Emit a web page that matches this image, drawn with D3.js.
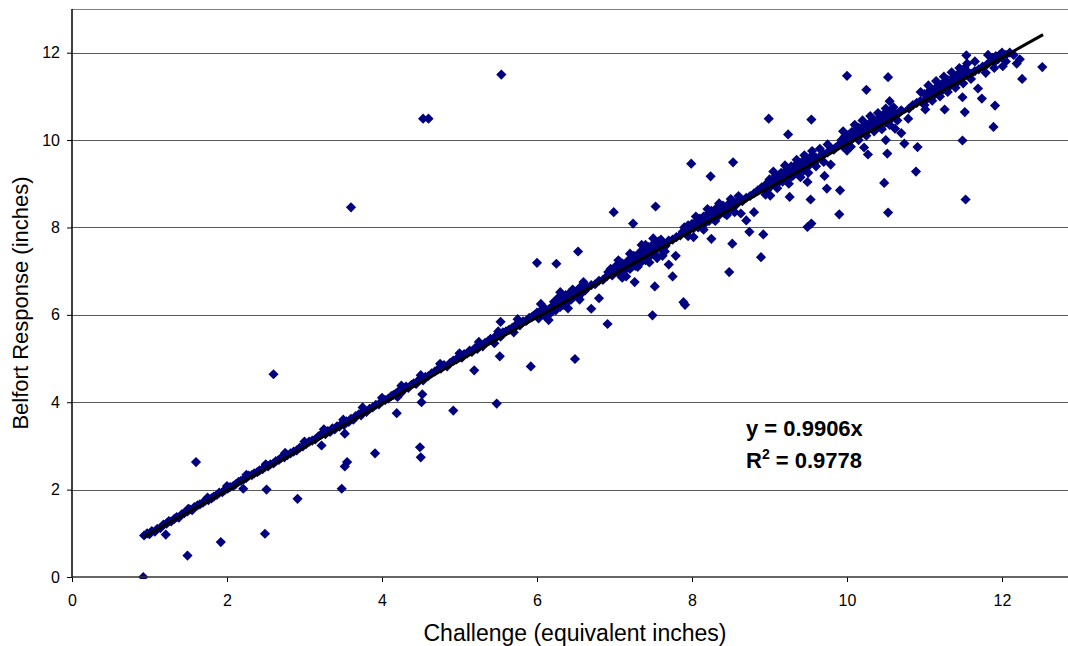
<!DOCTYPE html>
<html>
<head>
<meta charset="UTF-8">
<title>Belfort Response vs Challenge</title>
<script src="https://d3js.org/d3.v7.min.js"></script>
<style>
    body { margin: 0; background: #fff; }
    svg { display: block; }
    text { font-family: Arial, "Liberation Sans", sans-serif; fill: #000; }
</style>
</head>
<body>
<svg id="chart" width="1068" height="646"></svg>
<script>
// tick values for both axes
const xTicks = [0, 2, 4, 6, 8, 10, 12]
const yTicks = [0, 2, 4, 6, 8, 10, 12]

// linear fit through origin, shown as trendline
const slope = 0.9906
const rSquared = '0.9778'
const fitRange = [0.93, 12.53]

// readings that sit on the main band [challenge, response]
const bandLow = [
    [0.93,0.95],[0.97,1.0],[1.0,0.98],[1.03,1.05],[1.07,1.04],[1.1,1.1],[1.14,1.12],[1.18,1.2],[1.22,1.22],[1.25,1.28],
    [1.28,1.27],[1.32,1.33],[1.35,1.37],[1.38,1.36],[1.42,1.44],[1.45,1.46],[1.49,1.5],[1.52,1.55],[1.55,1.53],[1.58,1.6],
    [1.62,1.64],[1.65,1.66],[1.69,1.7],[1.72,1.75],[1.76,1.76],[1.8,1.8],[1.83,1.84],[1.87,1.88],[1.9,1.93],[1.94,1.94],
    [1.97,1.99],[2.01,2.02],[2.04,2.06],[2.08,2.08],[2.11,2.12],[2.15,2.18],[2.18,2.2],[2.22,2.24],[2.25,2.27],[2.28,2.32],
    [2.32,2.33],[2.35,2.37],[2.39,2.4],[2.42,2.44],[2.46,2.47],[2.49,2.52],[2.53,2.53],[2.56,2.58],[2.6,2.6],[2.63,2.65],
    [2.67,2.68],[2.7,2.73],[2.74,2.74],[2.78,2.79],[2.82,2.83],[2.86,2.87],[2.9,2.9],[2.94,2.96],[2.98,2.99],
    [1.5,1.56],[1.75,1.82],[2.0,2.08],[2.25,2.34],[2.5,2.58],[2.75,2.84]
]
const bandMid = [
    [3.02,3.04],[3.06,3.1],[3.1,3.12],[3.14,3.15],[3.18,3.22],[3.21,3.25],[3.24,3.3],[3.27,3.27],[3.3,3.34],[3.33,3.32],
    [3.36,3.4],[3.39,3.38],[3.42,3.45],[3.45,3.44],[3.48,3.5],[3.51,3.48],[3.54,3.56],[3.57,3.55],[3.6,3.62],[3.63,3.6],
    [3.66,3.68],[3.7,3.72],[3.73,3.7],[3.77,3.8],[3.8,3.78],[3.84,3.85],[3.88,3.88],[3.92,3.94],[3.96,3.95],[4.0,4.02],
    [4.04,4.05],[4.08,4.08],[4.12,4.14],[4.15,4.17],[4.18,4.2],[4.22,4.26],[4.25,4.22],[4.28,4.3],[4.31,4.36],[4.34,4.33],
    [4.38,4.4],[4.41,4.43],[4.44,4.42],[4.47,4.5],[4.5,4.55],[4.53,4.5],[4.56,4.58],[4.6,4.6],[4.64,4.66],[4.68,4.7],
    [4.72,4.75],[4.76,4.77],[4.8,4.85],[4.84,4.82],[4.88,4.9],[4.92,4.95],[4.96,4.98],[5.0,5.05],[5.03,5.02],[5.06,5.1],
    [5.1,5.12],[5.13,5.18],[5.16,5.15],[5.2,5.24],[5.23,5.22],[5.26,5.3],[5.3,5.28],[5.33,5.36],[5.37,5.4],[5.4,5.45],
    [5.43,5.42],[5.46,5.5],[5.5,5.55],[5.53,5.5],[5.56,5.6],[5.6,5.62],[5.64,5.66],[5.68,5.7],[5.72,5.75],[5.75,5.8],
    [5.78,5.76],[5.82,5.85],[5.86,5.86],[5.9,5.93],[5.94,5.96],[5.97,6.0],[3.52,3.28],[4.2,4.12],[5.45,5.35],[5.7,5.6],
    [3.0,3.1],[3.25,3.38],[3.5,3.6],[3.75,3.88],[4.0,4.1],[4.25,4.38],[4.5,4.62],[4.75,4.88],[5.0,5.12],[5.25,5.38],
    [5.5,5.62],[5.75,5.9]
]
const bandHigh = [
    [6.0,6.05],[6.02,5.92],[6.05,6.1],[6.08,6.0],[6.1,6.15],[6.12,5.95],[6.15,6.12],[6.18,6.05],[6.2,6.2],[6.22,6.3],
    [6.24,6.1],[6.26,6.25],[6.28,6.4],[6.3,6.18],[6.33,6.32],[6.35,6.22],[6.37,6.45],[6.4,6.3],[6.42,6.5],[6.44,6.35],
    [6.46,6.58],[6.48,6.42],[6.5,6.52],[6.53,6.4],[6.55,6.62],[6.58,6.5],[6.62,6.56],[6.65,6.62],[6.7,6.68],[6.75,6.7],
    [6.8,6.78],[6.85,6.8],[6.9,6.88],[6.92,6.98],[6.95,7.05],[6.97,6.9],[7.0,7.02],[7.02,7.12],[7.05,6.95],[7.08,7.08],
    [7.1,7.18],[7.12,7.0],[7.15,7.12],[7.18,7.25],[7.2,7.05],[7.22,7.2],[7.25,7.35],[7.27,7.12],[7.3,7.28],[7.32,7.42],
    [7.34,7.2],[7.36,7.32],[7.38,7.5],[7.4,7.25],[7.42,7.4],[7.44,7.55],[7.46,7.35],[7.48,7.48],[7.5,7.62],[7.52,7.4],
    [7.55,7.55],[7.57,7.68],[7.6,7.5],[7.63,7.62],[7.66,7.58],[7.7,7.7],[7.75,7.72],[7.8,7.78],[7.85,7.82],[7.88,7.9],
    [7.9,8.0],[7.93,7.88],[7.95,8.05],[7.97,7.95],[8.0,8.08],[8.02,7.98],[8.05,8.12],[8.08,8.0],[8.1,8.2],[8.12,8.08],
    [8.15,8.25],[8.17,8.1],[8.2,8.3],[8.22,8.15],[8.25,8.38],[8.27,8.2],[8.3,8.32],[8.32,8.45],[8.35,8.28],[8.38,8.4],
    [8.4,8.5],[8.42,8.32],[8.45,8.45],[8.48,8.55],[8.5,8.4],[8.53,8.6],[8.56,8.5],[8.6,8.62],[8.65,8.6],
    [6.05,6.25],[6.15,5.88],[6.3,6.52],[6.4,6.15],[6.55,6.35],[6.6,6.75],[7.05,7.25],[7.15,6.88],[7.2,7.4],[7.3,7.1],
    [7.35,7.6],[7.45,7.2],[7.5,7.75],[7.55,7.3],[7.6,7.72],[7.65,7.45],[7.1,6.85],[7.4,7.6],[7.95,7.8],[8.05,8.25],
    [8.15,7.95],[8.2,8.42],[8.3,8.15],[8.35,8.55],[8.45,8.28],[8.5,8.65],[8.55,8.35],[8.6,8.72]
]
const bandTop = [
    [8.7,8.68],[8.75,8.72],[8.8,8.78],[8.85,8.85],[8.9,8.92],[8.95,8.98],[8.97,8.85],[9.0,9.1],[9.02,8.95],[9.05,9.05],
    [9.08,9.18],[9.1,9.0],[9.12,9.12],[9.15,9.25],[9.17,9.05],[9.2,9.2],[9.22,9.32],[9.24,9.1],[9.26,9.28],[9.28,9.4],
    [9.3,9.18],[9.32,9.35],[9.35,9.45],[9.37,9.25],[9.4,9.38],[9.42,9.5],[9.44,9.3],[9.46,9.45],[9.48,9.58],[9.5,9.4],
    [9.53,9.55],[9.55,9.65],[9.58,9.48],[9.6,9.6],[9.65,9.62],[9.7,9.68],[9.75,9.72],[9.8,9.8],[9.85,9.82],[9.9,9.9],
    [9.93,10.0],[9.95,9.85],[9.97,10.08],[10.0,9.95],[10.02,10.12],[10.04,9.98],[10.06,10.18],[10.08,10.05],[10.1,10.2],[10.12,10.1],
    [10.15,10.28],[10.17,10.12],[10.2,10.3],[10.22,10.18],[10.25,10.35],[10.27,10.22],[10.3,10.4],[10.32,10.28],[10.35,10.45],[10.37,10.3],
    [10.4,10.42],[10.42,10.52],[10.44,10.35],[10.46,10.48],[10.48,10.6],[10.5,10.4],[10.53,10.55],[10.56,10.65],[10.58,10.5],[10.62,10.62],
    [10.66,10.6],[10.7,10.68],[10.8,10.72],[10.85,10.8],[10.9,10.85],[10.95,10.9],[11.0,11.05],[11.02,10.92],[11.05,11.1],[11.08,10.98],
    [11.1,11.15],[11.12,11.02],[11.15,11.2],[11.17,11.08],[11.2,11.25],[11.22,11.12],[11.25,11.32],[11.27,11.18],[11.3,11.38],[11.32,11.22],
    [11.35,11.4],[11.37,11.28],[11.4,11.45],[11.42,11.32],[11.44,11.52],[11.46,11.38],[11.48,11.6],[11.5,11.45],[11.52,11.65],[11.54,11.5],
    [11.56,11.55],[11.6,11.52],[11.65,11.58],[11.7,11.62],[11.75,11.68],[11.8,11.72],[11.85,11.8],[11.88,11.88],[11.9,11.78],[11.92,11.92],
    [11.95,11.85],[11.97,11.95],[12.0,11.9],[12.05,11.95],[12.1,12.0],
    [8.95,8.75],[9.05,9.28],[9.1,8.9],[9.2,9.42],[9.25,9.0],[9.35,9.55],[9.4,9.15],[9.45,9.65],[9.5,9.25],[9.55,9.75],
    [9.6,9.4],[9.65,9.8],[9.7,9.5],[9.75,9.9],[9.95,10.2],[10.05,9.85],[10.1,10.35],[10.15,10.0],[10.2,10.45],[10.25,10.1],
    [10.3,10.55],[10.35,10.2],[10.4,10.62],[10.45,10.25],[10.5,10.72],[10.55,10.35],[10.6,10.75],[10.65,10.45],[10.95,11.1],[11.0,10.8],
    [11.05,11.25],[11.1,10.9],[11.15,11.35],[11.2,11.0],[11.25,11.45],[11.3,11.1],[11.35,11.55],[11.4,11.2],[11.45,11.65],[11.5,11.3],
    [11.55,11.75],[11.6,11.4],[11.65,11.8],[11.82,11.95],[11.9,11.65],[12.0,12.0],[12.05,11.8],[12.15,11.95]
]

// readings that stray from the band
const strays = [
    [0.92,0.0],[1.21,0.97],[1.49,0.49],[1.92,0.8],[2.49,0.99],[2.51,2.0],[2.21,2.02],[2.91,1.79],[1.6,2.63],[2.6,4.64],
    [3.22,3.01],[3.48,2.02],[3.52,2.53],[3.55,2.63],[3.91,2.83],[4.49,2.97],[4.5,2.74],[4.19,3.75],[4.52,4.18],[4.51,4.0],
    [4.92,3.81],[5.48,3.97],[5.19,4.73],[5.52,5.05],[5.92,4.82],[5.53,5.84],[6.49,4.99],[6.91,5.79],[7.49,5.99],[6.7,6.14],
    [6.8,6.38],[7.26,6.75],[7.52,6.65],[7.75,6.88],[7.89,6.29],[7.91,6.23],[7.7,7.15],[7.62,7.35],[7.79,7.35],[6.0,7.19],
    [6.25,7.17],[6.53,7.45],[6.99,8.35],[7.24,8.09],[7.53,8.48],[8.25,7.74],[8.52,7.63],[8.48,6.98],[8.02,7.78],[8.89,7.32],
    [7.99,9.46],[8.53,9.49],[8.24,9.17],[8.63,8.32],[8.7,8.16],[8.74,7.9],[8.92,7.84],[8.8,8.35],[9.01,8.73],[9.26,8.7],
    [9.49,9.04],[9.53,8.64],[9.49,8.01],[9.54,8.09],[9.71,9.18],[9.79,9.44],[9.74,8.89],[9.91,8.85],[9.9,8.3],[8.99,10.49],
    [9.54,10.47],[9.24,10.13],[10.0,11.47],[10.53,11.44],[10.25,11.15],[10.55,10.89],[10.5,10.0],[10.52,9.69],[10.48,9.02],[10.53,8.34],
    [9.83,9.78],[10.0,9.76],[10.22,9.83],[10.27,9.67],[10.62,10.26],[10.7,10.16],[10.74,9.92],[10.91,9.84],[10.89,9.28],[10.79,10.49],
    [11.01,10.7],[11.26,10.7],[11.49,10.98],[11.52,10.64],[11.49,9.99],[11.53,8.64],[11.69,11.18],[11.74,10.95],[11.91,10.79],[11.89,10.3],
    [11.79,11.54],[12.01,11.69],[12.19,11.75],[12.23,11.85],[12.26,11.4],[12.52,11.67],[11.54,11.94],[3.6,8.46],[4.53,10.49],[4.6,10.49],
    [5.54,11.5]
]

const points = bandLow.concat(bandMid, bandHigh, bandTop, strays)

const svg = d3.select('#chart')

// plot area: the right side runs off the picture
const plot = { left: 72, top: 9, right: 1068, bottom: 577 }

const xScale = d3.scaleLinear()
    .domain([0, 14])
    .range([plot.left, plot.left + 14 * 77.5])

const yScale = d3.scaleLinear()
    .domain([0, 13])
    .range([plot.bottom, plot.top])

svg.append('defs').append('clipPath')
    .attr('id', 'plotClip')
    .append('rect')
    .attr('x', plot.left)
    .attr('y', plot.top - 2)
    .attr('width', plot.right - plot.left)
    .attr('height', plot.bottom - plot.top + 4)

// horizontal gridlines
svg.append('g')
    .selectAll('line')
    .data(yTicks.filter(d => d > 0))
    .enter()
    .append('line')
    .attr('x1', plot.left)
    .attr('x2', plot.right)
    .attr('y1', d => Math.round(yScale(d)) + 0.5)
    .attr('y2', d => Math.round(yScale(d)) + 0.5)
    .style('stroke', '#5a5a5a')
    .style('stroke-width', 1)

// top edge of plot area
svg.append('line')
    .attr('x1', plot.left)
    .attr('x2', plot.right)
    .attr('y1', plot.top + 0.5)
    .attr('y2', plot.top + 0.5)
    .style('stroke', '#808080')
    .style('stroke-width', 1.2)

// data points as navy diamonds
const diamond = d3.symbol().type(d3.symbolSquare).size(52)
svg.append('g')
    .attr('clip-path', 'url(#plotClip)')
    .selectAll('path')
    .data(points)
    .enter()
    .append('path')
    .attr('d', diamond)
    .attr('transform', d => `translate(${xScale(d[0])},${yScale(d[1])}) rotate(45)`)
    .style('fill', '#000080')

// trendline
svg.append('line')
    .attr('x1', xScale(fitRange[0]))
    .attr('y1', yScale(fitRange[0] * slope))
    .attr('x2', xScale(fitRange[1]))
    .attr('y2', yScale(fitRange[1] * slope))
    .style('stroke', '#000')
    .style('stroke-width', 3)

// axes
const xAxis = d3.axisBottom(xScale).tickValues(xTicks).tickSize(5).tickPadding(13)
const yAxis = d3.axisLeft(yScale).tickValues(yTicks).tickSize(5).tickPadding(7)

const gx = svg.append('g')
    .attr('transform', `translate(0,${plot.bottom})`)
    .call(xAxis)
gx.select('.domain').remove()
gx.append('line')
    .attr('x1', plot.left)
    .attr('x2', plot.right)
    .style('stroke', '#333')
    .style('stroke-width', 1.5)

const gy = svg.append('g')
    .attr('transform', `translate(${plot.left},0)`)
    .call(yAxis)
gy.select('.domain').remove()
gy.append('line')
    .attr('y1', plot.top)
    .attr('y2', plot.bottom)
    .style('stroke', '#000')
    .style('stroke-width', 1.5)

svg.selectAll('.tick line').style('stroke', '#000')
svg.selectAll('.tick text')
    .style('font-family', 'Arial, "Liberation Sans", sans-serif')
    .style('font-size', '16px')
    .style('fill', '#000')

// axis titles
svg.append('text')
    .attr('x', 575)
    .attr('y', 641)
    .attr('text-anchor', 'middle')
    .style('font-size', '23px')
    .text('Challenge (equivalent inches)')

svg.append('text')
    .attr('transform', 'rotate(-90)')
    .attr('x', -303)
    .attr('y', 28)
    .attr('text-anchor', 'middle')
    .style('font-size', '22px')
    .text('Belfort Response (inches)')

// fit equation
svg.append('text')
    .attr('x', 746)
    .attr('y', 436)
    .style('font-size', '22px')
    .style('font-weight', 'bold')
    .text('y = ' + slope + 'x')

const r2 = svg.append('text')
    .attr('x', 746)
    .attr('y', 468)
    .style('font-size', '22px')
    .style('font-weight', 'bold')
r2.append('tspan').text('R')
r2.append('tspan').attr('dy', -9).style('font-size', '14px').text('2')
r2.append('tspan').attr('dy', 9).text(' = ' + rSquared)
</script>
</body>
</html>
